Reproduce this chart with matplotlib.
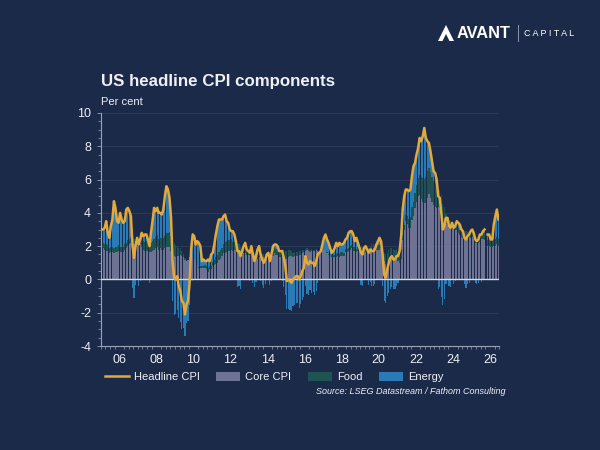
import numpy as np
import matplotlib
matplotlib.use("Agg")
import matplotlib.pyplot as plt
from matplotlib.patches import Patch, Polygon
from matplotlib.lines import Line2D
from matplotlib.ticker import MultipleLocator

plt.rcParams['font.family'] = ['Liberation Sans', 'DejaVu Sans']
plt.rcParams['axes.unicode_minus'] = False

# ---- data: monthly, Jan 2005 .. Jun 2026 (Oct 2025 not published) ----
START_YEAR = 2005
nan = np.nan

# headline CPI, % y/y
headline = [
    3.0, 3.0, 3.1, 3.5, 2.8, 2.5, 3.2, 3.6, 4.7, 4.3, 3.5, 3.4,          # 2005
    4.0, 3.6, 3.4, 3.5, 4.2, 4.3, 4.1, 3.8, 2.1, 1.3, 2.0, 2.5,          # 2006
    2.1, 2.4, 2.8, 2.6, 2.7, 2.7, 2.4, 2.0, 2.8, 3.5, 4.3, 4.1,          # 2007
    4.3, 4.0, 4.0, 3.9, 4.2, 5.0, 5.6, 5.4, 4.9, 3.7, 1.1, 0.1,          # 2008
    0.0, 0.2, -0.4, -0.7, -1.3, -1.4, -2.1, -1.5, -1.3, -0.2, 1.8, 2.7,  # 2009
    2.6, 2.1, 2.3, 2.2, 2.0, 1.1, 1.2, 1.1, 1.1, 1.2, 1.1, 1.5,          # 2010
    1.6, 2.1, 2.7, 3.2, 3.6, 3.6, 3.6, 3.8, 3.9, 3.5, 3.4, 3.0,          # 2011
    2.9, 2.9, 2.7, 2.3, 1.7, 1.7, 1.4, 1.7, 2.0, 2.2, 1.8, 1.7,          # 2012
    1.6, 2.0, 1.5, 1.1, 1.4, 1.8, 2.0, 1.5, 1.2, 1.0, 1.2, 1.5,          # 2013
    1.6, 1.1, 1.5, 2.0, 2.1, 2.1, 2.0, 1.7, 1.7, 1.7, 1.3, 0.8,          # 2014
    -0.1, 0.0, -0.1, -0.2, 0.0, 0.1, 0.2, 0.2, 0.0, 0.2, 0.5, 0.7,       # 2015
    1.4, 1.0, 0.9, 1.1, 1.0, 1.0, 0.8, 1.1, 1.5, 1.6, 1.7, 2.1,          # 2016
    2.5, 2.7, 2.4, 2.2, 1.9, 1.6, 1.7, 1.9, 2.2, 2.0, 2.2, 2.1,          # 2017
    2.1, 2.2, 2.4, 2.5, 2.8, 2.9, 2.9, 2.7, 2.3, 2.5, 2.2, 1.9,          # 2018
    1.6, 1.5, 1.9, 2.0, 1.8, 1.6, 1.8, 1.7, 1.7, 1.8, 2.1, 2.3,          # 2019
    2.5, 2.3, 1.5, 0.3, 0.1, 0.6, 1.0, 1.3, 1.4, 1.2, 1.2, 1.4,          # 2020
    1.4, 1.7, 2.6, 4.2, 5.0, 5.4, 5.4, 5.3, 5.4, 6.2, 6.8, 7.0,          # 2021
    7.5, 7.9, 8.5, 8.3, 8.6, 9.1, 8.5, 8.3, 8.2, 7.7, 7.1, 6.5,          # 2022
    6.4, 6.0, 5.0, 4.9, 4.0, 3.0, 3.2, 3.7, 3.7, 3.2, 3.1, 3.4,          # 2023
    3.1, 3.2, 3.5, 3.4, 3.3, 3.0, 2.9, 2.5, 2.4, 2.6, 2.7, 2.9,          # 2024
    3.0, 2.8, 2.4, 2.3, 2.4, 2.7, 2.7, 2.9, 3.0, nan, 2.7, 2.7,          # 2025
    2.4, 2.4, 3.3, 3.8, 4.2, 3.6,                                        # 2026
]

# contribution of core CPI, pp
core = [
    1.79, 1.87, 1.79, 1.72, 1.72, 1.56, 1.64, 1.64, 1.56, 1.64, 1.64, 1.72,
    1.64, 1.64, 1.64, 1.79, 1.87, 2.03, 2.11, 2.18, 2.26, 2.11, 2.03, 2.03,
    2.11, 2.11, 1.95, 1.79, 1.72, 1.72, 1.72, 1.64, 1.64, 1.72, 1.79, 1.87,
    1.95, 1.79, 1.87, 1.79, 1.79, 1.87, 1.95, 1.95, 1.95, 1.72, 1.56, 1.40,
    1.33, 1.40, 1.40, 1.48, 1.40, 1.33, 1.17, 1.09, 1.17, 1.33, 1.33, 1.40,
    1.25, 1.01, 0.86, 0.70, 0.70, 0.70, 0.70, 0.70, 0.62, 0.47, 0.62, 0.62,
    0.78, 0.86, 0.94, 1.01, 1.17, 1.25, 1.40, 1.56, 1.56, 1.64, 1.72, 1.72,
    1.79, 1.72, 1.79, 1.79, 1.79, 1.72, 1.64, 1.48, 1.56, 1.56, 1.48, 1.48,
    1.48, 1.56, 1.48, 1.33, 1.33, 1.25, 1.33, 1.40, 1.33, 1.33, 1.33, 1.33,
    1.25, 1.25, 1.33, 1.40, 1.56, 1.48, 1.48, 1.33, 1.33, 1.40, 1.33, 1.25,
    1.25, 1.33, 1.40, 1.40, 1.33, 1.40, 1.40, 1.40, 1.48, 1.48, 1.56, 1.64,
    1.72, 1.79, 1.72, 1.64, 1.72, 1.72, 1.72, 1.79, 1.72, 1.64, 1.64, 1.72,
    1.79, 1.72, 1.56, 1.48, 1.33, 1.33, 1.33, 1.33, 1.33, 1.40, 1.33, 1.40,
    1.40, 1.40, 1.64, 1.64, 1.72, 1.79, 1.87, 1.72, 1.72, 1.64, 1.72, 1.72,
    1.72, 1.64, 1.56, 1.64, 1.56, 1.64, 1.72, 1.87, 1.87, 1.79, 1.79, 1.79,
    1.79, 1.87, 1.64, 1.09, 0.94, 0.94, 1.25, 1.33, 1.33, 1.25, 1.25, 1.25,
    1.09, 1.01, 1.25, 2.34, 2.96, 3.51, 3.35, 3.12, 3.12, 3.59, 3.82, 4.29,
    4.68, 4.99, 5.07, 4.84, 4.68, 4.60, 4.60, 4.91, 5.15, 4.91, 4.68, 4.45,
    4.37, 4.29, 4.37, 4.29, 4.13, 3.74, 3.67, 3.35, 3.20, 3.12, 3.12, 3.04,
    3.04, 2.96, 2.96, 2.81, 2.65, 2.57, 2.50, 2.50, 2.57, 2.57, 2.57, 2.50,
    2.57, 2.42, 2.18, 2.18, 2.18, 2.26, 2.42, 2.42, 2.34, nan, 2.03, 2.03,
    1.95, 1.95, 2.03, 2.03, 2.11, 2.03,
]

# contribution of food, pp
food = [
    0.36, 0.34, 0.35, 0.38, 0.35, 0.34, 0.32, 0.31, 0.32, 0.32, 0.31, 0.32,
    0.32, 0.32, 0.32, 0.31, 0.31, 0.32, 0.34, 0.34, 0.34, 0.31, 0.29, 0.29,
    0.36, 0.41, 0.49, 0.50, 0.55, 0.56, 0.57, 0.56, 0.57, 0.57, 0.66, 0.69,
    0.70, 0.66, 0.62, 0.67, 0.71, 0.74, 0.81, 0.85, 0.87, 0.88, 0.85, 0.81,
    0.74, 0.63, 0.50, 0.39, 0.29, 0.18, 0.13, 0.04, -0.01, -0.04, -0.07, -0.07,
    -0.06, -0.01, 0.03, 0.07, 0.08, 0.10, 0.13, 0.14, 0.20, 0.20, 0.20, 0.21,
    0.25, 0.32, 0.41, 0.45, 0.49, 0.52, 0.50, 0.56, 0.66, 0.64, 0.64, 0.66,
    0.62, 0.55, 0.46, 0.43, 0.39, 0.38, 0.32, 0.28, 0.28, 0.24, 0.25, 0.25,
    0.22, 0.22, 0.21, 0.21, 0.20, 0.20, 0.20, 0.20, 0.20, 0.18, 0.17, 0.15,
    0.20, 0.20, 0.24, 0.28, 0.35, 0.32, 0.32, 0.36, 0.42, 0.42, 0.45, 0.48,
    0.45, 0.42, 0.36, 0.32, 0.24, 0.25, 0.22, 0.22, 0.22, 0.20, 0.18, 0.11,
    0.10, 0.11, 0.11, 0.11, 0.10, 0.04, 0.04, 0.03, -0.01, -0.03, -0.01, -0.03,
    -0.03, -0.03, 0.07, 0.07, 0.03, 0.13, 0.15, 0.15, 0.17, 0.18, 0.20, 0.22,
    0.24, 0.18, 0.18, 0.20, 0.17, 0.20, 0.20, 0.20, 0.20, 0.17, 0.20, 0.22,
    0.22, 0.28, 0.29, 0.25, 0.28, 0.27, 0.25, 0.24, 0.25, 0.29, 0.28, 0.25,
    0.25, 0.25, 0.27, 0.49, 0.56, 0.63, 0.57, 0.57, 0.55, 0.55, 0.52, 0.55,
    0.53, 0.50, 0.49, 0.34, 0.31, 0.34, 0.48, 0.52, 0.64, 0.74, 0.85, 0.88,
    0.98, 1.11, 1.23, 1.32, 1.41, 1.46, 1.53, 1.60, 1.57, 1.53, 1.48, 1.46,
    1.41, 1.33, 1.19, 1.08, 0.94, 0.80, 0.69, 0.60, 0.52, 0.46, 0.41, 0.38,
    0.36, 0.31, 0.31, 0.31, 0.29, 0.31, 0.31, 0.29, 0.32, 0.29, 0.34, 0.35,
    0.35, 0.36, 0.42, 0.39, 0.41, 0.42, 0.41, 0.45, 0.43, nan, 0.36, 0.43,
    0.40, 0.42, 0.41, 0.42, 0.43, 0.42,
]

# contribution of energy, pp
energy = [
    0.85, 0.79, 0.96, 1.40, 0.73, 0.60, 1.24, 1.65, 2.82, 2.34, 1.55, 1.36,
    2.04, 1.64, 1.44, 1.40, 2.02, 1.95, 1.65, 1.28, -0.50, -1.12, -0.32, 0.18,
    -0.37, -0.12, 0.36, 0.31, 0.43, 0.42, 0.11, -0.20, 0.59, 1.21, 1.85, 1.54,
    1.65, 1.55, 1.51, 1.44, 1.70, 2.39, 2.84, 2.60, 2.08, 1.10, -1.31, -2.11,
    -2.07, -1.83, -2.30, -2.57, -2.99, -2.91, -3.40, -2.63, -2.46, -1.49, 0.54, 1.37,
    1.41, 1.10, 1.41, 1.43, 1.22, 0.30, 0.37, 0.26, 0.28, 0.53, 0.28, 0.67,
    0.57, 0.92, 1.35, 1.74, 1.94, 1.83, 1.70, 1.68, 1.68, 1.22, 1.04, 0.62,
    0.49, 0.63, 0.45, 0.08, -0.48, -0.40, -0.56, -0.06, 0.16, 0.40, 0.07, -0.03,
    -0.10, 0.22, -0.19, -0.44, -0.13, 0.35, 0.47, -0.10, -0.33, -0.51, -0.30, 0.02,
    0.15, -0.35, -0.07, 0.32, 0.19, 0.30, 0.20, 0.01, -0.05, -0.12, -0.48, -0.93,
    -1.80, -1.75, -1.86, -1.92, -1.57, -1.55, -1.42, -1.42, -1.70, -1.48, -1.24, -1.05,
    -0.42, -0.90, -0.93, -0.65, -0.82, -0.76, -0.96, -0.72, -0.21, -0.01, 0.07, 0.41,
    0.74, 1.01, 0.77, 0.65, 0.54, 0.14, 0.22, 0.42, 0.70, 0.42, 0.67, 0.48,
    0.46, 0.62, 0.58, 0.66, 0.91, 0.91, 0.83, 0.78, 0.38, 0.69, 0.28, -0.04,
    -0.34, -0.42, 0.05, 0.11, -0.04, -0.31, -0.17, -0.41, -0.42, -0.28, 0.03, 0.26,
    0.46, 0.18, -0.41, -1.28, -1.40, -0.97, -0.82, -0.60, -0.48, -0.60, -0.57, -0.40,
    -0.22, 0.19, 0.86, 1.52, 1.73, 1.55, 1.57, 1.66, 1.64, 1.87, 2.13, 1.83,
    1.84, 1.80, 2.20, 2.14, 2.51, 3.04, 2.37, 1.79, 1.48, 1.26, 0.94, 0.59,
    0.62, 0.38, -0.56, -0.47, -1.07, -1.54, -1.16, -0.25, -0.02, -0.38, -0.43, -0.02,
    -0.30, -0.07, 0.23, 0.28, 0.36, 0.12, 0.09, -0.29, -0.49, -0.26, -0.21, 0.05,
    0.08, 0.02, -0.20, -0.27, -0.19, 0.02, -0.13, 0.03, 0.23, nan, 0.31, 0.24,
    0.05, 0.03, 0.86, 1.35, 1.66, 1.15,
]

year_ticks = list(range(2006, 2027, 2))
year_labels = [f"{y % 100:02d}" for y in year_ticks]

# ---- style ----
BG = "#1b2a48"
GRID = "#2c3a59"
TXT = "#eef0f5"
C_LINE = "#e3a93b"
C_CORE = "#6e7393"
C_FOOD = "#1d5452"
C_ENERGY = "#2a7ab5"

n = len(headline)
x = START_YEAR + (np.arange(n) + 0.5) / 12.0
bar_w = 0.75 / 12.0

fig = plt.figure(figsize=(6, 4.5), dpi=100, facecolor=BG)
ax = fig.add_axes([0.168, 0.231, 0.664, 0.518])
ax.set_facecolor(BG)

pos_base = np.zeros(n)
neg_base = np.zeros(n)
for vals, col in [(core, C_CORE), (food, C_FOOD), (energy, C_ENERGY)]:
    v = np.nan_to_num(np.array(vals, dtype=float))
    base = np.where(v >= 0, pos_base, neg_base)
    ax.bar(x, v, bottom=base, width=bar_w, color=col, linewidth=0, zorder=2)
    pos_base = pos_base + np.clip(v, 0, None)
    neg_base = neg_base + np.clip(v, None, 0)

ax.plot(x, headline, color=C_LINE, lw=1.8, zorder=4, solid_joinstyle='round')
ax.axhline(0, color="#d5d8e2", lw=1.0, zorder=3)

ax.set_xlim(2005.0, 2026.5)
ax.set_ylim(-4, 10)
ax.set_yticks(np.arange(-4, 11, 2))
ax.yaxis.set_minor_locator(MultipleLocator(0.5))
ax.set_xticks(year_ticks)
ax.set_xticklabels(year_labels)
ax.xaxis.set_minor_locator(MultipleLocator(0.25))
ax.grid(axis='y', color=GRID, lw=0.8, zorder=0)

for s in ['top', 'right']:
    ax.spines[s].set_visible(False)
for s in ['left', 'bottom']:
    ax.spines[s].set_color("#9aa2b8")
    ax.spines[s].set_linewidth(0.8)
ax.tick_params(axis='both', which='major', colors="#9aa2b8", labelcolor=TXT,
               labelsize=9, length=3, width=0.6)
ax.tick_params(axis='both', which='minor', colors="#9aa2b8", length=2, width=0.5)
ax.tick_params(axis='x', which='major', length=0, pad=6)
ax.tick_params(axis='y', pad=4)

# titles
fig.text(0.168, 0.808, "US headline CPI components", color=TXT, fontsize=12.2,
         fontweight='bold', va='baseline')
fig.text(0.168, 0.767, "Per cent", color=TXT, fontsize=8, va='baseline')

# legend
handles = [Line2D([0], [0], color=C_LINE, lw=1.8),
           Patch(facecolor=C_CORE), Patch(facecolor=C_FOOD), Patch(facecolor=C_ENERGY)]
labels = ["Headline CPI", "Core CPI", "Food", "Energy"]
fig.legend(handles, labels, ncol=4, loc='center left', bbox_to_anchor=(0.158, 0.162),
           frameon=False, fontsize=8, labelcolor=TXT, handlelength=2.15,
           handleheight=0.8, handletextpad=0.45, columnspacing=1.5)

fig.text(0.842, 0.129, "Source: LSEG Datastream / Fathom Consulting", color=TXT,
         fontsize=6.5, style='italic', ha='right', va='center')

# logo
W, H = 600.0, 450.0
icon = [(438, 41), (446, 25), (454, 41), (449.5, 41), (446, 34), (442.5, 41)]
fig.patches.append(Polygon([(px / W, 1 - py / H) for px, py in icon], closed=True,
                           facecolor="white", transform=fig.transFigure))
fig.text(457 / W, 1 - 33 / H, "AVANT", color="white", fontsize=11.8,
         fontweight='bold', va='center')
fig.lines.append(Line2D([518 / W, 518 / W], [1 - 25 / H, 1 - 41 / H],
                        color="#8d96ad", lw=0.7, transform=fig.transFigure))
fig.text(524 / W, 1 - 33 / H, "C A P I T A L", color="white", fontsize=6.5,
         va='center')

fig.savefig("out.png", dpi=100, facecolor=BG)
